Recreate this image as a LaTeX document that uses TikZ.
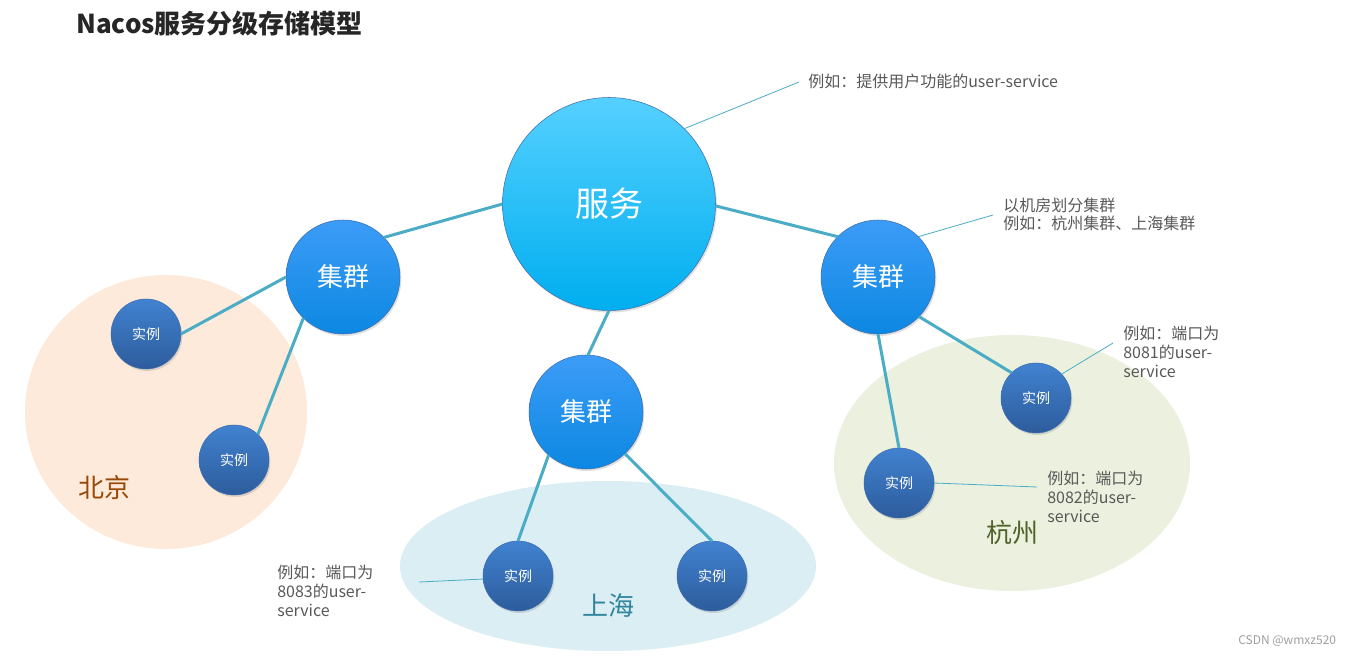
\documentclass[tikz,border=0pt]{standalone}
\usepackage{fontspec}
\setmainfont{Noto Sans CJK SC}
\usetikzlibrary{shadows}
\definecolor{linkc}{HTML}{4BACC6}
\definecolor{annotc}{HTML}{595959}
\definecolor{titlec}{HTML}{262626}
\definecolor{bjfill}{HTML}{FDEADA}
\definecolor{hzfill}{HTML}{EBF1DE}
\definecolor{shfill}{HTML}{DBEEF4}
\definecolor{bjtext}{HTML}{984807}
\definecolor{hztext}{HTML}{4F6228}
\definecolor{shtext}{HTML}{31859C}
\definecolor{svctop}{HTML}{55D0FF}
\definecolor{svcmid}{HTML}{1CBEF8}
\definecolor{svcbot}{HTML}{00AEEF}
\definecolor{cltop}{HTML}{3C9CF7}
\definecolor{clmid}{HTML}{2C86F0}
\definecolor{clbot}{HTML}{0C88E2}
\definecolor{insttop}{HTML}{4182D0}
\definecolor{instbot}{HTML}{2D5C9C}
\definecolor{edgec}{HTML}{3F6DAE}
\definecolor{markc}{HTML}{A0A0A0}
\begin{document}
\begin{tikzpicture}[x=0.75pt,y=-0.75pt,
  link/.style={draw=linkc, line width=2.25pt},
  annot/.style={draw=linkc, line width=0.6pt},
  ball/.style={circle, inner sep=0pt, outer sep=0pt, text=white, draw=edgec, line width=0.4pt,
    drop shadow={opacity=0.25, shadow xshift=1pt, shadow yshift=-1.5pt}},
  svcnode/.style={ball, minimum size=159.75pt, top color=svctop, middle color=svcmid, bottom color=svcbot, font=\fontsize{25.5pt}{28pt}\selectfont},
  clnode/.style={ball, minimum size=85.5pt, top color=cltop, middle color=clmid, bottom color=clbot, font=\fontsize{19.5pt}{22pt}\selectfont},
  instnode/.style={ball, minimum size=52.5pt, top color=insttop, bottom color=instbot, font=\fontsize{10.5pt}{12pt}\selectfont},
  note/.style={anchor=west, align=left, inner sep=0pt, text=annotc, font=\fontsize{12pt}{14pt}\selectfont},
  region/.style={font=\fontsize{19.5pt}{22pt}\selectfont, inner sep=0pt}]
\fill[white] (0,0) rectangle (1356,656);
\useasboundingbox (0,0) rectangle (1356,656);

% regions
\fill[bjfill] (166,412) ellipse [x radius=141, y radius=137];
\fill[hzfill] (1012,463) ellipse [x radius=178, y radius=128];
\fill[shfill] (608,566) ellipse [x radius=208, y radius=85];
\node[region, text=bjtext] (bj) at (104,488) {北京};
\node[region, text=hztext] (hz) at (1012,533) {杭州};
\node[region, text=shtext] (sh) at (608,606) {上海};

% title
\node[anchor=west, inner sep=0pt, text=titlec, font=\fontsize{19.5pt}{22pt}\selectfont\bfseries] (title) at (76,24) {Nacos服务分级存储模型};

% nodes
\node[svcnode] (svc) at (609,204) {服务};
\node[clnode] (clL) at (343,277) {集群};
\node[clnode] (clM) at (586,412) {集群};
\node[clnode] (clR) at (878,277) {集群};
\node[instnode] (bj1) at (146,334) {实例};
\node[instnode] (bj2) at (234,460) {实例};
\node[instnode] (sh1) at (518,576) {实例};
\node[instnode] (sh2) at (712,576) {实例};
\node[instnode] (hz1) at (1036,398) {实例};
\node[instnode] (hz2) at (899,483) {实例};

% links
\draw[link] (svc.180) -- (clL.44);
\draw[link] (svc.-1) -- (clR.135);
\draw[link] (svc.270) -- (clM.88);
\draw[link] (clL.180) -- (bj1.0);
\draw[link] (clL.226) -- (bj2.47);
\draw[link] (clM.229) -- (sh1.90);
\draw[link] (clM.-47) -- (sh2.90);
\draw[link] (clR.-44) -- (hz1.134);
\draw[link] (clR.270) -- (hz2.90);

% notes
\node[note] (n1) at (808,81) {例如：提供用户功能的user-service};
\node[note] (n2) at (1003,214.5) {以机房划分集群\\例如：杭州集群、上海集群};
\node[note] (n3) at (1123,352) {例如：端口为\\8081的user-\\service};
\node[note] (n4) at (1047,497) {例如：端口为\\8082的user-\\service};
\node[note] (n5) at (277,591) {例如：端口为\\8083的user-\\service};
\coordinate (a1) at (799,82);
\coordinate (a2) at (993,215);
\coordinate (a3) at (1113,343);
\coordinate (a4) at (1037,487);
\coordinate (a5) at (419,582);
\draw[annot] (svc.45) -- (a1);
\draw[annot] (clR.45) -- (a2);
\draw[annot] (hz1.43) -- (a3);
\draw[annot] (hz2.0) -- (a4);
\draw[annot] (sh1.185) -- (a5);

\node[anchor=west, inner sep=0pt, text=markc, font=\fontsize{9pt}{10pt}\selectfont] (mark) at (1238,641) {CSDN @wmxz520};
\end{tikzpicture}
\end{document}
